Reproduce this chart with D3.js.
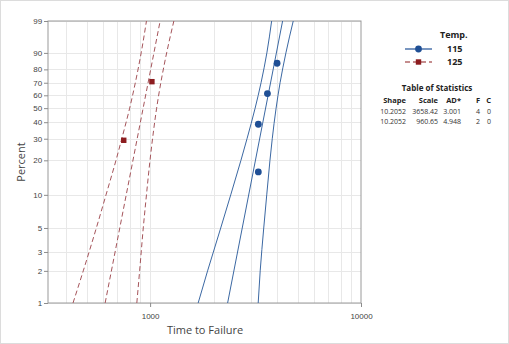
<!DOCTYPE html>
<html>
<head>
<meta charset="utf-8">
<script src="https://cdn.jsdelivr.net/npm/d3@7"></script>
<style>
  body { margin: 0; background: #fff; }
  svg { font-family: "Open Sans", "Noto Sans", sans-serif; }
  .grid line { stroke: #e8e8e8; stroke-width: 1; }
  .axis text { fill: #444; font-size: 8px; }
  .axis path, .axis line { stroke: #8c8c8c; }
</style>
</head>
<body>
<div id="chart"></div>
<script>
// groups and their failure times (median ranks used for plotting)
var groups = ['115', '125'];
var times115 = [3260, 3260, 3600, 4000];
var times125 = [750, 1020];

// fitted Weibull parameters (Table of Statistics)
var shapes = [10.2052, 10.2052];
var scales = [3658.42, 960.65];
var adStats = [3.001, 4.948];
var failures = [4, 2];
var censored = [0, 0];

// 95% confidence bounds, at these percents
var bandPercents = [1, 2, 5, 10, 20, 30, 50, 70, 90, 99];
var lower115 = [1690, 1873, 2162, 2412, 2696, 2881, 3148, 3358, 3578, 3769];
var upper115 = [3255, 3327, 3458, 3573, 3701, 3795, 3958, 4133, 4405, 4772];
var lower125 = [431, 482, 556, 618, 689, 734, 800, 851, 907, 961];
var upper125 = [865, 892, 928, 961, 999, 1027, 1074, 1124, 1198, 1296];

var percentTicks = [1, 2, 3, 5, 10, 20, 30, 40, 50, 60, 70, 80, 90, 99];
var xMajor = [1000, 10000];
var xGrid = [400, 500, 600, 700, 800, 900, 1000, 2000, 3000, 4000, 5000, 6000, 7000, 8000, 9000];

var colors = ['#1f4f95', '#8c1c1f'];
var lineColors = ['#3b68a3', '#a5545a'];

var W = 509, H = 344;
var margin = {top: 21, right: 148, bottom: 41, left: 48};
var width = W - margin.left - margin.right;
var height = H - margin.top - margin.bottom;

// Weibull probability transform
function wb(p) { return Math.log(-Math.log(1 - p)); }

var svg = d3.select('#chart').append('svg')
    .attr('width', W)
    .attr('height', H);

svg.append('rect')
    .attr('x', 0.5).attr('y', 0.5)
    .attr('width', W - 1).attr('height', H - 1)
    .attr('fill', '#fff')
    .attr('stroke', '#dcdcdc');

var x = d3.scaleLog()
    .domain([328, 10000])
    .range([0, width]);

var y = d3.scaleLinear()
    .domain([wb(0.01), wb(0.99)])
    .range([height, 0]);

var graph = svg.append('g')
    .attr('transform', 'translate(' + margin.left + ',' + margin.top + ')');

// grid lines
var grid = graph.append('g').classed('grid', true);
grid.selectAll('line.v')
    .data(xGrid)
    .enter().append('line')
    .attr('x1', function(d) { return Math.round(x(d)) + 0.5; })
    .attr('x2', function(d) { return Math.round(x(d)) + 0.5; })
    .attr('y1', 0).attr('y2', height);
grid.selectAll('line.h')
    .data(percentTicks)
    .enter().append('line')
    .attr('x1', 0).attr('x2', width)
    .attr('y1', function(d) { return Math.round(y(wb(d / 100))) + 0.5; })
    .attr('y2', function(d) { return Math.round(y(wb(d / 100))) + 0.5; });

// frame
graph.append('rect')
    .attr('x', 0).attr('y', 0)
    .attr('width', width).attr('height', height)
    .attr('fill', 'none')
    .attr('stroke', '#9a9a9a');

// axes
var xAxis = d3.axisBottom(x)
    .tickValues(xMajor)
    .tickFormat(d3.format('d'))
    .tickSize(4)
    .tickSizeOuter(0);
graph.append('g')
    .classed('x axis', true)
    .attr('transform', 'translate(0,' + height + ')')
    .call(xAxis)
    .call(function(g) { g.select('.domain').remove(); })
    .selectAll('text').attr('dy', '1.15em');

var yAxis = d3.axisLeft(y)
    .tickValues(percentTicks.map(function(p) { return wb(p / 100); }))
    .tickFormat(function(d, i) { return percentTicks[i]; })
    .tickSize(4)
    .tickSizeOuter(0);
graph.append('g')
    .classed('y axis', true)
    .call(yAxis)
    .call(function(g) { g.select('.domain').remove(); })
    .selectAll('text').attr('dx', '0.15em');

// axis titles
svg.append('text')
    .attr('x', 205)
    .attr('y', 334)
    .attr('text-anchor', 'middle')
    .attr('fill', '#444')
    .style('font-size', '11px')
    .text('Time to Failure');

svg.append('text')
    .attr('transform', 'translate(25,' + (margin.top + 141) + ') rotate(-90)')
    .attr('text-anchor', 'middle')
    .attr('fill', '#444')
    .style('font-size', '11px')
    .text('Percent');

// clip lines to plot
graph.append('clipPath').attr('id', 'clip')
    .append('rect').attr('width', width).attr('height', height);
var plot = graph.append('g').attr('clip-path', 'url(#clip)');

var bandLine = d3.line()
    .x(function(d) { return x(d[0]); })
    .y(function(d) { return y(wb(d[1] / 100)); })
    .curve(d3.curveMonotoneY);

var fitPercents = [1, 99];
var bands = [[lower115, upper115], [lower125, upper125]];

groups.forEach(function(g, gi) {
    var dash = gi === 1 ? '5,3' : null;
    var fit = fitPercents.map(function(p) {
        var t = scales[gi] * Math.pow(-Math.log(1 - p / 100), 1 / shapes[gi]);
        return [t, p];
    });
    var lines = [bands[gi][0], bands[gi][1]].map(function(arr) {
        return arr.map(function(t, i) { return [t, bandPercents[i]]; });
    });
    lines.push(fit);
    plot.selectAll('path.g' + gi)
        .data(lines)
        .enter().append('path')
        .attr('d', bandLine)
        .attr('fill', 'none')
        .attr('stroke', lineColors[gi])
        .attr('stroke-width', 1)
        .attr('stroke-dasharray', dash);
});

// points at median ranks
function medianRanks(times) {
    var n = times.length;
    return times.slice().sort(d3.ascending).map(function(t, i) {
        return [t, (i + 1 - 0.3) / (n + 0.4)];
    });
}

graph.selectAll('circle.p115')
    .data(medianRanks(times115))
    .enter().append('circle')
    .attr('cx', function(d) { return x(d[0]); })
    .attr('cy', function(d) { return y(wb(d[1])); })
    .attr('r', 3.4)
    .attr('fill', colors[0]);

graph.selectAll('rect.p125')
    .data(medianRanks(times125))
    .enter().append('rect')
    .attr('x', function(d) { return x(d[0]) - 2.7; })
    .attr('y', function(d) { return y(wb(d[1])) - 2.7; })
    .attr('width', 5.4).attr('height', 5.4)
    .attr('fill', colors[1]);

// legend
var legend = svg.append('g').style('font-size', '9px').attr('fill', '#222');
legend.append('text')
    .attr('x', 440).attr('y', 38)
    .style('font-weight', 'bold')
    .text('Temp.');
groups.forEach(function(g, gi) {
    var ly = 49 + gi * 13;
    legend.append('line')
        .attr('x1', 405).attr('x2', 432)
        .attr('y1', ly).attr('y2', ly)
        .attr('stroke', colors[gi])
        .attr('stroke-width', 1.2)
        .attr('stroke-dasharray', gi === 1 ? '5,3' : null);
    if (gi === 0) {
        legend.append('circle').attr('cx', 418.5).attr('cy', ly).attr('r', 3.4).attr('fill', colors[0]);
    } else {
        legend.append('rect').attr('x', 415.8).attr('y', ly - 2.7).attr('width', 5.4).attr('height', 5.4).attr('fill', colors[1]);
    }
    legend.append('text')
        .attr('x', 447).attr('y', ly + 3.3)
        .style('font-weight', 'bold')
        .text(g);
});

// table of statistics
var table = svg.append('g').style('font-size', '7px').attr('fill', '#222');
table.append('text')
    .attr('x', 437).attr('y', 91)
    .attr('text-anchor', 'middle')
    .style('font-weight', 'bold')
    .style('font-size', '8px')
    .text('Table of Statistics');
var cols = [
    {name: 'Shape', right: 406, vals: shapes.map(function(v) { return v.toFixed(4); })},
    {name: 'Scale', right: 438, vals: scales.map(function(v) { return v.toFixed(2); })},
    {name: 'AD*', right: 461, vals: adStats.map(function(v) { return v.toFixed(3); })},
    {name: 'F', right: 480, vals: failures},
    {name: 'C', right: 491, vals: censored}
];
cols.forEach(function(c) {
    table.append('text')
        .attr('x', c.right).attr('y', 103)
        .attr('text-anchor', 'end')
        .style('font-weight', 'bold')
        .style('font-size', '7.5px')
        .text(c.name);
    c.vals.forEach(function(v, i) {
        table.append('text')
            .attr('x', c.right).attr('y', 113.5 + i * 10)
            .attr('text-anchor', 'end')
            .attr('fill', '#333')
            .text(v);
    });
});
</script>
</body>
</html>
